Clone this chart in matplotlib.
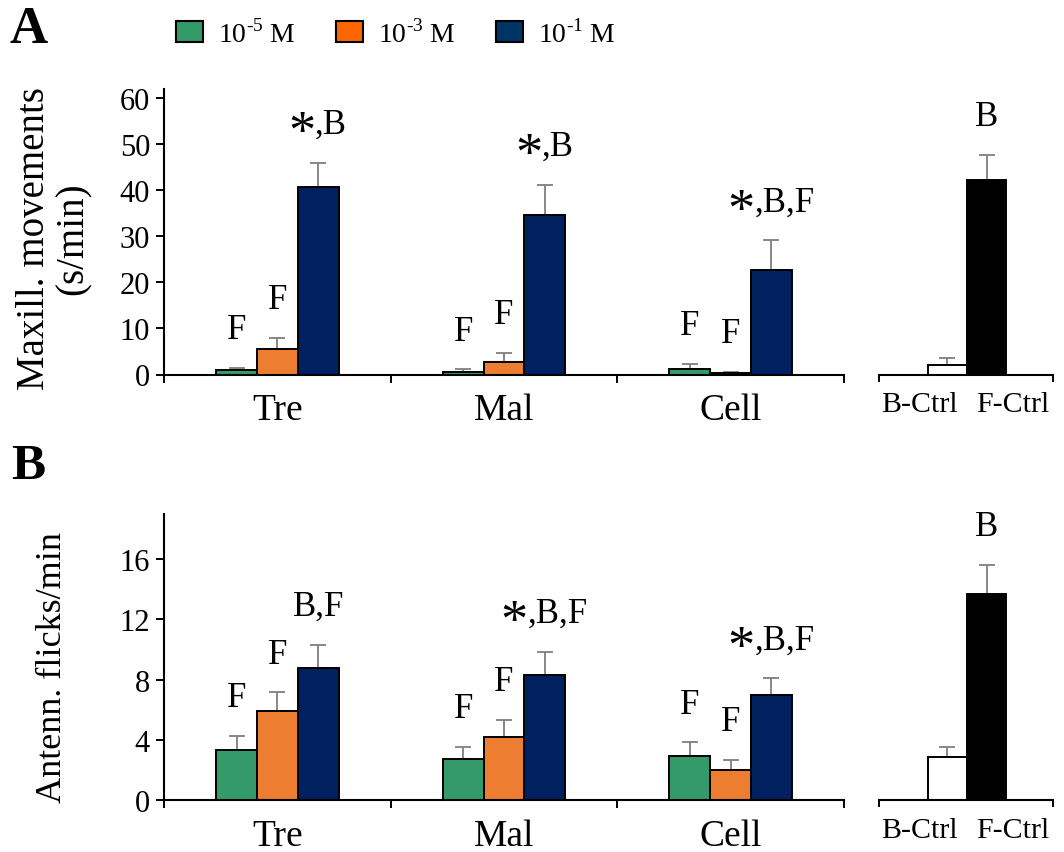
import matplotlib
matplotlib.use("Agg")
import matplotlib.pyplot as plt
import numpy as np
from matplotlib.patches import Patch
from matplotlib.textpath import TextPath
from matplotlib.font_manager import FontProperties

plt.rcParams['font.family'] = ['Liberation Serif', 'DejaVu Serif']
plt.rcParams['mathtext.fontset'] = 'custom'
plt.rcParams['mathtext.rm'] = 'Liberation Serif'

# ---------------- data ----------------
categories = ['Tre', 'Mal', 'Cell']
conc_labels = ['10$^{\\mathrm{\u20105}}$ M', '10$^{\\mathrm{\u20103}}$ M', '10$^{\\mathrm{\u20101}}$ M']
ctrl_labels = ['B-Ctrl', 'F-Ctrl']

# Panel A: maxillary movements (s/min)
maxill_1e5 = [0.9, 0.6, 1.1]
maxill_1e3 = [5.6, 2.7, 0.3]
maxill_1e1 = [40.7, 34.7, 22.7]
maxill_err_1e5 = [0.5, 0.5, 1.1]
maxill_err_1e3 = [2.3, 2.0, 0.2]
maxill_err_1e1 = [5.2, 6.5, 6.4]
maxill_ctrl = [2.0, 42.3]
maxill_ctrl_err = [1.5, 5.4]
maxill_sig = [['F', 'F', '*,B'], ['F', 'F', '*,B'], ['F', 'F', '*,B,F']]
maxill_ctrl_sig = ['', 'B']

# Panel B: antennal flicks/min
antenn_1e5 = [3.3, 2.75, 2.93]
antenn_1e3 = [5.9, 4.2, 2.0]
antenn_1e1 = [8.75, 8.3, 6.95]
antenn_err_1e5 = [0.95, 0.8, 0.9]
antenn_err_1e3 = [1.25, 1.15, 0.65]
antenn_err_1e1 = [1.55, 1.55, 1.15]
antenn_ctrl = [2.87, 13.7]
antenn_ctrl_err = [0.63, 1.9]
antenn_sig = [['F', 'F', 'B,F'], ['F', 'F', '*,B,F'], ['F', 'F', '*,B,F']]
antenn_ctrl_sig = ['', 'B']

bar_colors = ['#349A69', '#ED7D31', '#002060']
legend_colors = ['#339966', '#FF6600', '#003366']
ctrl_colors = ['white', 'black']
err_color = '#7F7F7F'

W, H = 1064, 853
fig = plt.figure(figsize=(W / 100, H / 100), dpi=100)

FP = FontProperties(family='Liberation Serif')
SIG_FS = 25
SIG_OFF = 21.5


def ink(s, size):
    return TextPath((0, 0), s, size=size, prop=FP).get_extents()


def fx(px):
    return px / W


def fy(px):
    return 1 - px / H


def sig_label(ax, x, y, label):
    if not label:
        return
    if label.startswith('*'):
        rest = label[1:]
        unit = ink('*', 1)
        afs = 15.8 / unit.width
        ea = ink('*', afs)
        er = ink(rest, SIG_FS)
        gap = 2.5
        total = ea.width + gap + er.width
        left = -total / 2
        cap_mid = SIG_FS * 0.331
        ax.annotate('*', (x, y), xytext=(left - ea.x0, SIG_OFF + cap_mid - (ea.y0 + ea.y1) / 2),
                    textcoords='offset points', ha='left', va='baseline', fontsize=afs)
        ax.annotate(rest, (x, y), xytext=(left + ea.width + gap - er.x0, SIG_OFF),
                    textcoords='offset points', ha='left', va='baseline', fontsize=SIG_FS)
    else:
        ax.annotate(label, (x, y), xytext=(0, SIG_OFF), textcoords='offset points',
                    ha='center', va='baseline', fontsize=SIG_FS)


def main_panel(top_px, bot_px, ylim, yticks, series, errs, sigs):
    ax = fig.add_axes([fx(164), fy(bot_px), fx(844) - fx(164), fy(top_px) - fy(bot_px)])
    x = np.arange(len(categories)) + 0.5
    bw = 0.18
    for i, (vals, er, col) in enumerate(zip(series, errs, bar_colors)):
        xi = x + (i - 1) * bw
        ax.bar(xi, vals, width=bw, color=col, edgecolor='black', linewidth=1.4, zorder=2)
        ax.errorbar(xi, vals, yerr=[np.zeros(len(vals)), er], fmt='none', ecolor=err_color,
                    elinewidth=1.3, capsize=5.5, capthick=1.3, zorder=1)
        for j in range(len(vals)):
            sig_label(ax, xi[j], vals[j] + er[j], sigs[j][i])
    ax.set_xlim(0, 3)
    ax.set_ylim(*ylim)
    ax.set_yticks(yticks)
    ax.set_xticks([0, 1, 2, 3])
    ax.set_xticklabels([])
    ax.set_xticks(x, minor=True)
    ax.set_xticklabels(categories, minor=True, fontsize=27)
    ax.tick_params(axis='x', which='minor', length=0, pad=13)
    ax.tick_params(axis='x', which='major', direction='out', length=6, width=1.4)
    ax.tick_params(axis='y', direction='out', length=6, width=1.4, labelsize=22, pad=4)
    for s in ['top', 'right']:
        ax.spines[s].set_visible(False)
    for s in ['left', 'bottom']:
        ax.spines[s].set_linewidth(1.5)
    return ax


def ctrl_panel(top_px, bot_px, ylim, vals, errs, sigs):
    ax = fig.add_axes([fx(879), fy(bot_px), fx(1053) - fx(879), fy(top_px) - fy(bot_px)])
    xpos = [0.787, 1.236]
    ax.bar(xpos, vals, width=0.448, color=ctrl_colors, edgecolor='black', linewidth=1.4, zorder=2)
    ax.errorbar(xpos, vals, yerr=[np.zeros(2), errs], fmt='none', ecolor=err_color,
                elinewidth=1.3, capsize=5.5, capthick=1.3, zorder=1)
    for j in range(2):
        sig_label(ax, xpos[j], vals[j] + errs[j], sigs[j])
    ax.set_xlim(0, 2)
    ax.set_ylim(*ylim)
    ax.set_yticks([])
    ax.set_xticks([0, 2])
    ax.set_xticklabels([])
    ax.set_xticks([0.47, 1.54], minor=True)
    ax.set_xticklabels(ctrl_labels, minor=True, fontsize=21.5)
    ax.tick_params(axis='x', which='minor', length=0, pad=12)
    ax.tick_params(axis='x', which='major', direction='out', length=5, width=1.4)
    for s in ['top', 'right', 'left']:
        ax.spines[s].set_visible(False)
    ax.spines['bottom'].set_linewidth(1.5)
    return ax


# Panel A
main_panel(89.7, 375.5, (0, 62), [0, 10, 20, 30, 40, 50, 60],
           [maxill_1e5, maxill_1e3, maxill_1e1],
           [maxill_err_1e5, maxill_err_1e3, maxill_err_1e1], maxill_sig)
ctrl_panel(89.7, 375.5, (0, 62), maxill_ctrl, maxill_ctrl_err, maxill_ctrl_sig)

# Panel B
main_panel(515.2, 801, (0, 19), [0, 4, 8, 12, 16],
           [antenn_1e5, antenn_1e3, antenn_1e1],
           [antenn_err_1e5, antenn_err_1e3, antenn_err_1e1], antenn_sig)
ctrl_panel(515.2, 801, (0, 19), antenn_ctrl, antenn_ctrl_err, antenn_ctrl_sig)

# y labels
fig.text(fx(54), fy(239), 'Maxill. movements\n(s/min)', rotation=90, ha='center', va='center',
         multialignment='center', fontsize=28, linespacing=1.05)
fig.text(fx(53), fy(668), 'Antenn. flicks/min', rotation=90, ha='center', va='center', fontsize=26)

# panel letters
fig.text(fx(10), fy(43), 'A', fontsize=38, fontweight='bold', ha='left', va='baseline')
fig.text(fx(11), fy(479), 'B', fontsize=37, fontweight='bold', ha='left', va='baseline')

# legend
handles = [Patch(facecolor=c, edgecolor='black', linewidth=1.5) for c in legend_colors]
fig.legend(handles, conc_labels, loc='center', bbox_to_anchor=(fx(396), fy(34)), ncol=3,
           frameon=False, fontsize=20, handlelength=0.97, handleheight=0.8,
           handletextpad=0.55, columnspacing=1.45, borderpad=0, borderaxespad=0)

fig.savefig('out.png', dpi=100)
